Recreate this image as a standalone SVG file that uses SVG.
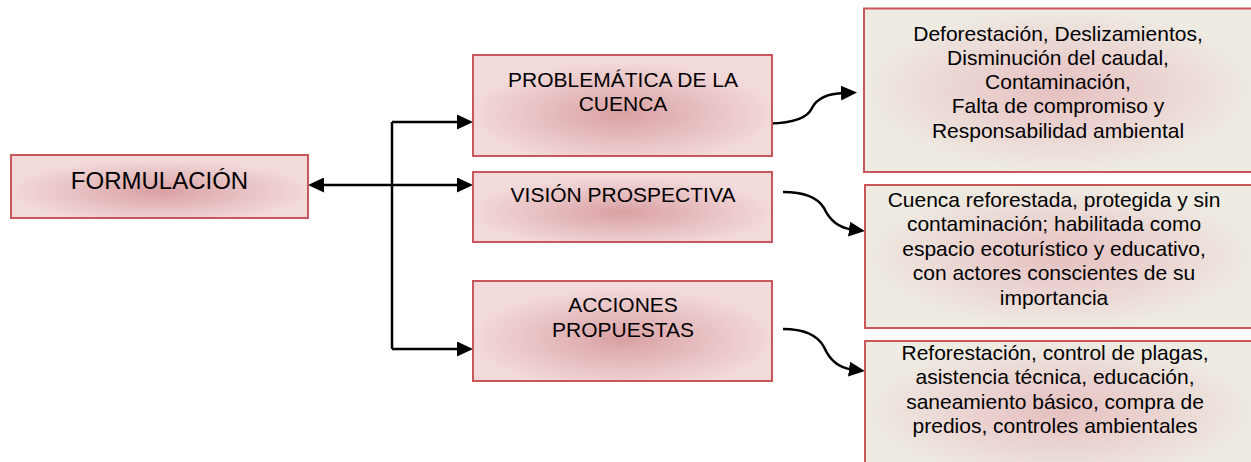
<svg xmlns="http://www.w3.org/2000/svg" width="1251" height="462" viewBox="0 0 1251 462">
<defs>
<radialGradient id="gPink" cx="50%" cy="58%" r="50%">
<stop offset="0" stop-color="#daa0a3"/>
<stop offset="0.6" stop-color="#e8c2c4"/>
<stop offset="1" stop-color="#f2d9da"/>
</radialGradient>
<radialGradient id="gTan" cx="50%" cy="50%" r="50%">
<stop offset="0" stop-color="#e6c0c1"/>
<stop offset="0.6" stop-color="#ebd8d4"/>
<stop offset="1" stop-color="#eeebe2"/>
</radialGradient>
<marker id="ah" viewBox="0 0 16 15" markerWidth="16" markerHeight="15" refX="3" refY="7.5" orient="auto-start-reverse" markerUnits="userSpaceOnUse">
<path d="M0,0 L16,7.5 L0,15 z" fill="#000"/>
</marker>
</defs>
<style>
.lb{fill:url(#gPink);stroke:#c9565a;stroke-width:2}
.rb{fill:url(#gTan);stroke:#c9565a;stroke-width:2}
text{font-family:"Liberation Sans",Arial,sans-serif;fill:#000;text-anchor:middle}
.t21{font-size:21px}
.t24{font-size:24px}
.c{fill:none;stroke:#000;stroke-width:2.5}
</style>
<g id="connectors">
<path class="c" d="M392,122 V349"/>
<path class="c" d="M321,185 H460" marker-start="url(#ah)" marker-end="url(#ah)"/>
<path class="c" d="M392,122 H460" marker-end="url(#ah)"/>
<path class="c" d="M392,349 H460" marker-end="url(#ah)"/>
<path class="c" d="M770,123.5 C795,123 808,117 812,108 C817,98 828,93.5 844,93" marker-end="url(#ah)"/>
<path class="c" d="M783,192 C805,192 818,198 824,208 C830,221 840,228 852,229.5" marker-end="url(#ah)"/>
<path class="c" d="M783,329 C805,329 818,336 824,347 C830,361 840,368 852,369.5" marker-end="url(#ah)"/>
</g>
<g id="formulacion">
<rect class="lb" x="11" y="155" width="297" height="63"/>
<text class="t24" x="159.5" y="189">FORMULACIÓN</text>
</g>
<g id="problematica">
<rect class="lb" x="473" y="55" width="299" height="101"/>
<text class="t21" x="623" y="87">PROBLEMÁTICA DE LA</text>
<text class="t21" x="623" y="111">CUENCA</text>
</g>
<g id="vision">
<rect class="lb" x="473" y="172" width="299" height="70"/>
<text class="t21" x="623" y="202">VISIÓN PROSPECTIVA</text>
</g>
<g id="acciones">
<rect class="lb" x="473" y="281" width="299" height="100"/>
<text class="t21" x="623" y="312">ACCIONES</text>
<text class="t21" x="623" y="337">PROPUESTAS</text>
</g>
<g id="problemas">
<rect class="rb" x="864" y="8.5" width="390" height="163.5"/>
<text class="t21" x="1058" y="40.5">Deforestación, Deslizamientos,</text>
<text class="t21" x="1058" y="64.7">Disminución del caudal,</text>
<text class="t21" x="1058" y="89">Contaminación,</text>
<text class="t21" x="1058" y="113.2">Falta de compromiso y</text>
<text class="t21" x="1058" y="137.5">Responsabilidad ambiental</text>
</g>
<g id="vision-detalle">
<rect class="rb" x="865" y="185" width="390" height="143"/>
<text class="t21" x="1054" y="207">Cuenca reforestada, protegida y sin</text>
<text class="t21" x="1054" y="231.4">contaminación; habilitada como</text>
<text class="t21" x="1054" y="255.8">espacio ecoturístico y educativo,</text>
<text class="t21" x="1054" y="280.2">con actores conscientes de su</text>
<text class="t21" x="1054" y="304.6">importancia</text>
</g>
<g id="acciones-detalle">
<rect class="rb" x="865" y="341" width="390" height="140"/>
<text class="t21" x="1055" y="360">Reforestación, control de plagas,</text>
<text class="t21" x="1055" y="384.4">asistencia técnica, educación,</text>
<text class="t21" x="1055" y="408.8">saneamiento básico, compra de</text>
<text class="t21" x="1055" y="433.2">predios, controles ambientales</text>
</g>
</svg>
